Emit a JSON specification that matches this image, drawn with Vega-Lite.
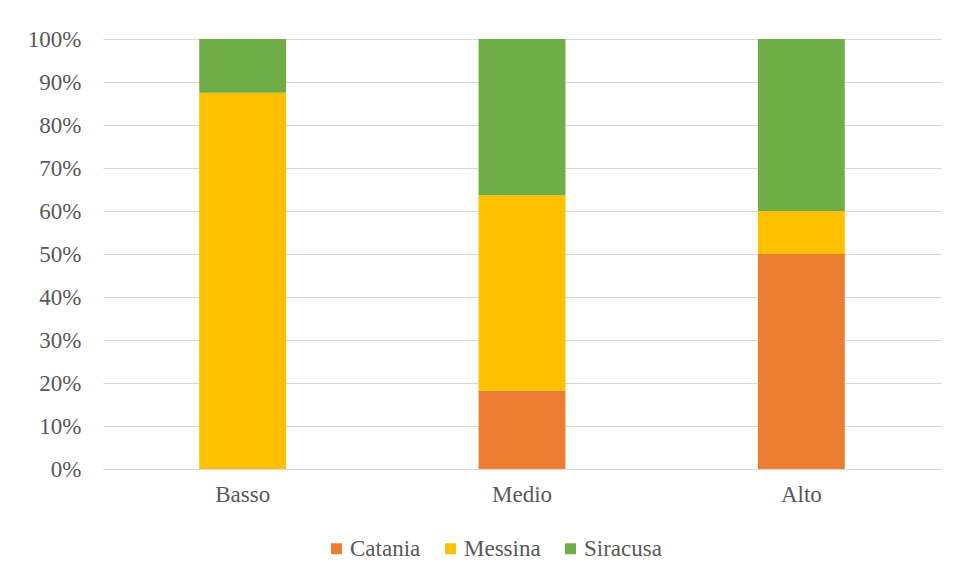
{
  "$schema": "https://vega.github.io/schema/vega-lite/v6.json",
  "width": 838,
  "height": 430,
  "autosize": "none",
  "padding": {"left": 103, "top": 39, "right": 16, "bottom": 109},
  "background": "white",
  "config": {
    "view": {"stroke": null},
    "font": "Liberation Serif",
    "legend": {"labelFont": "Liberation Serif", "labelFontSize": 23, "labelColor": "#595959"},
    "axis": {"labelFont": "Liberation Serif", "labelFontSize": 23, "labelColor": "#595959"}
  },
  "data": {
    "values": [
      {"livello": "Basso", "citta": "Catania", "n": 0, "ord": 1},
      {"livello": "Basso", "citta": "Messina", "n": 7, "ord": 2},
      {"livello": "Basso", "citta": "Siracusa", "n": 1, "ord": 3},
      {"livello": "Medio", "citta": "Catania", "n": 2, "ord": 1},
      {"livello": "Medio", "citta": "Messina", "n": 5, "ord": 2},
      {"livello": "Medio", "citta": "Siracusa", "n": 4, "ord": 3},
      {"livello": "Alto", "citta": "Catania", "n": 5, "ord": 1},
      {"livello": "Alto", "citta": "Messina", "n": 1, "ord": 2},
      {"livello": "Alto", "citta": "Siracusa", "n": 4, "ord": 3}
    ]
  },
  "mark": {"type": "bar"},
  "encoding": {
    "x": {
      "field": "livello",
      "type": "nominal",
      "sort": ["Basso", "Medio", "Alto"],
      "scale": {"paddingInner": 0.689, "paddingOuter": 0.3445},
      "axis": {
        "title": null,
        "labelAngle": 0,
        "ticks": false,
        "domain": true,
        "domainColor": "#d9d9d9",
        "labelPadding": 14
      }
    },
    "y": {
      "field": "n",
      "type": "quantitative",
      "stack": "normalize",
      "scale": {"domain": [0, 1]},
      "axis": {
        "title": null,
        "values": [0, 0.1, 0.2, 0.3, 0.4, 0.5, 0.6, 0.7, 0.8, 0.9, 1],
        "format": ".0%",
        "ticks": false,
        "domain": false,
        "grid": true,
        "gridColor": "#d9d9d9",
        "gridWidth": 1,
        "labelPadding": 22
      }
    },
    "color": {
      "field": "citta",
      "type": "nominal",
      "scale": {
        "domain": ["Catania", "Messina", "Siracusa"],
        "range": ["#ED7D31", "#FFC000", "#70AD47"]
      },
      "legend": {
        "title": null,
        "orient": "none",
        "direction": "horizontal",
        "legendX": 222,
        "legendY": 498,
        "symbolType": "square",
        "symbolSize": 121,
        "symbolStrokeWidth": 0,
        "symbolOpacity": 1,
        "labelOffset": 2,
        "columnPadding": 18
      }
    },
    "order": {"field": "ord", "type": "quantitative"}
  }
}
